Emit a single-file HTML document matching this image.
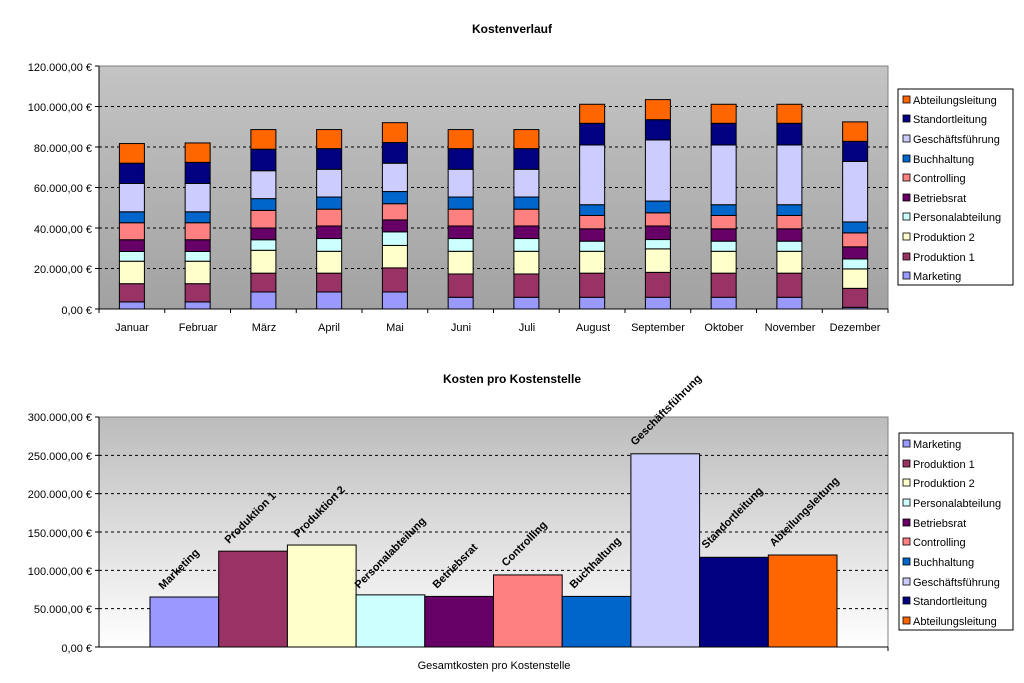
<!DOCTYPE html>
<html><head><meta charset="utf-8"><style>
html,body{margin:0;padding:0;background:#fff;}
svg{display:block;font-family:"Liberation Sans",Arial,sans-serif;}
</style></head><body>
<svg id="s" width="1024" height="683" viewBox="0 0 1024 683" xmlns="http://www.w3.org/2000/svg">
<defs>
<linearGradient id="g1" x1="0" y1="0" x2="0" y2="1"><stop offset="0" stop-color="#c4c4c4"/><stop offset="1" stop-color="#a2a2a2"/></linearGradient>
<linearGradient id="g2" x1="0" y1="0" x2="0" y2="1"><stop offset="0" stop-color="#bcbcbc"/><stop offset="1" stop-color="#ffffff"/></linearGradient>
</defs>
<text x="512" y="33" font-size="12" font-weight="bold" text-anchor="middle">Kostenverlauf</text>
<rect x="99" y="66" width="789" height="243" fill="url(#g1)" stroke="#808080" stroke-width="1"/>
<g id="gtop"></g>
<g font-size="11" fill="#000" text-anchor="end">
<text x="92" y="71">120.000,00 €</text>
<text x="92" y="111">100.000,00 €</text>
<text x="92" y="152">80.000,00 €</text>
<text x="92" y="192">60.000,00 €</text>
<text x="92" y="233">40.000,00 €</text>
<text x="92" y="273">20.000,00 €</text>
<text x="92" y="314">0,00 €</text>
</g>
<g font-size="11" text-anchor="middle">
<text x="132" y="331">Januar</text><text x="198" y="331">Februar</text><text x="264" y="331">März</text><text x="329" y="331">April</text><text x="395" y="331">Mai</text><text x="461" y="331">Juni</text><text x="527" y="331">Juli</text><text x="593" y="331">August</text><text x="658" y="331">September</text><text x="724" y="331">Oktober</text><text x="790" y="331">November</text><text x="855" y="331">Dezember</text>
</g>
<rect x="898" y="89" width="115" height="196" fill="#fff" stroke="#000" stroke-width="1"/>
<g font-size="11">
<text x="913" y="104">Abteilungsleitung</text>
<text x="913" y="123">Standortleitung</text>
<text x="913" y="143">Geschäftsführung</text>
<text x="913" y="163">Buchhaltung</text>
<text x="913" y="182">Controlling</text>
<text x="913" y="202">Betriebsrat</text>
<text x="913" y="221">Personalabteilung</text>
<text x="913" y="241">Produktion 2</text>
<text x="913" y="261">Produktion 1</text>
<text x="913" y="280">Marketing</text>
</g>

<text x="512" y="383" font-size="12" font-weight="bold" text-anchor="middle">Kosten pro Kostenstelle</text>
<rect x="99" y="417" width="789" height="230" fill="url(#g2)" stroke="#808080" stroke-width="1"/>
<g id="gbot"></g>
<g font-size="11" text-anchor="end">
<text x="92" y="421">300.000,00 €</text>
<text x="92" y="460">250.000,00 €</text>
<text x="92" y="498">200.000,00 €</text>
<text x="92" y="537">150.000,00 €</text>
<text x="92" y="575">100.000,00 €</text>
<text x="92" y="613">50.000,00 €</text>
<text x="92" y="652">0,00 €</text>
</g>
<text x="494" y="669" font-size="11" text-anchor="middle">Gesamtkosten pro Kostenstelle</text>
<g font-size="11" font-weight="bold">
<text transform="translate(163,590) rotate(-45)">Marketing</text>
<text transform="translate(229,544) rotate(-45)">Produktion 1</text>
<text transform="translate(298,538) rotate(-45)">Produktion 2</text>
<text transform="translate(359,589) rotate(-45)">Personalabteilung</text>
<text transform="translate(437,589) rotate(-45)">Betriebsrat</text>
<text transform="translate(506,567) rotate(-45)">Controlling</text>
<text transform="translate(574,589) rotate(-45)">Buchhaltung</text>
<text transform="translate(635,446) rotate(-45)">Geschäftsführung</text>
<text transform="translate(706,549) rotate(-45)">Standortleitung</text>
<text transform="translate(774,547) rotate(-45)">Abteilungsleitung</text>
</g>
<rect x="899" y="433" width="114" height="197" fill="#fff" stroke="#000" stroke-width="1"/>
<g font-size="11">
<text x="913" y="448">Marketing</text>
<text x="913" y="468">Produktion 1</text>
<text x="913" y="487">Produktion 2</text>
<text x="913" y="507">Personalabteilung</text>
<text x="913" y="527">Betriebsrat</text>
<text x="913" y="546">Controlling</text>
<text x="913" y="566">Buchhaltung</text>
<text x="913" y="586">Geschäftsführung</text>
<text x="913" y="605">Standortleitung</text>
<text x="913" y="625">Abteilungsleitung</text>
</g>
<g id="gsw"></g>
</svg>
<script>
(function(){
var NS="http://www.w3.org/2000/svg";
function el(p,t,a){var e=document.createElementNS(NS,t);for(var k in a)e.setAttribute(k,a[k]);p.appendChild(e);return e;}
var C=["#9999FF","#993366","#FFFFCC","#CCFFFF","#660066","#FF8080","#0066CC","#CCCCFF","#000080","#FF6600"];
var gTop=document.getElementById("gtop"),gBot=document.getElementById("gbot"),gSw=document.getElementById("gsw");
var i,y,x,s,m;
for(i=1;i<=5;i++){y=309-i*40.5;el(gTop,"line",{x1:99,x2:888,y1:y,y2:y,stroke:"#000","stroke-dasharray":"3,3","stroke-width":1});}
for(i=0;i<=6;i++){y=309-i*40.5;el(gTop,"line",{x1:95,x2:99,y1:y,y2:y,stroke:"#000"});}
el(gTop,"line",{x1:99,x2:99,y1:66,y2:309,stroke:"#000"});
el(gTop,"line",{x1:99,x2:888,y1:309,y2:309,stroke:"#000"});
for(i=0;i<=12;i++){x=99+i*65.75;el(gTop,"line",{x1:x,x2:x,y1:309,y2:313,stroke:"#000"});}
var D=[
[3.5,12.5,23.6,28.4,34.2,42.6,48,62,72,81.7],
[3.5,12.5,23.6,28.4,34.2,42.6,48,62,72.4,82],
[8.4,17.7,29,34.2,40,48.7,54.5,68.3,78.9,88.6],
[8.4,17.7,28.5,34.8,41,49.3,55.3,69,79.2,88.6],
[8.4,20.3,31.4,38.1,44,52,58,72,82.2,92],
[5.8,17.3,28.5,34.8,41,49.3,55.3,69,79.2,88.6],
[5.8,17.3,28.5,34.8,41,49.3,55.3,69,79.2,88.6],
[5.8,17.7,28.5,33.5,39.6,46.2,51.5,81,91.7,101.1],
[5.8,18.1,29.7,34.3,41,47.5,53.3,83.5,93.5,103.4],
[5.8,17.7,28.5,33.5,39.6,46.2,51.5,81,91.7,101.1],
[5.8,17.7,28.5,33.5,39.6,46.2,51.5,81,91.7,101.1],
[0.8,10.2,19.8,24.7,30.7,37.6,43,72.9,82.8,92.4]];
var sc=243/120;
for(m=0;m<12;m++){x=99+m*65.75+20.4;var prev=0;
 for(s=0;s<10;s++){var v=D[m][s];var y1=309-v*sc,y0=309-prev*sc;
  el(gTop,"rect",{x:x,y:y1,width:25,height:y0-y1,fill:C[s],stroke:"#000","stroke-width":1});prev=v;}}
var ly1=[280,261,241,221,202,182,163,143,123,104];
var ly2=[448,468,487,507,527,546,566,586,605,625];
for(s=0;s<10;s++){el(gSw,"rect",{x:903,y:ly1[s]-8,width:7,height:7,fill:C[s],stroke:"#000","stroke-width":0.8});
 el(gSw,"rect",{x:903,y:ly2[s]-8,width:7,height:7,fill:C[s],stroke:"#000","stroke-width":0.8});}
for(i=1;i<=5;i++){y=647-i*230/6;el(gBot,"line",{x1:99,x2:888,y1:y,y2:y,stroke:"#000","stroke-dasharray":"3,3","stroke-width":1});}
for(i=0;i<=6;i++){y=647-i*230/6;el(gBot,"line",{x1:95,x2:99,y1:y,y2:y,stroke:"#000"});}
el(gBot,"line",{x1:99,x2:99,y1:417,y2:647,stroke:"#000"});
el(gBot,"line",{x1:99,x2:888,y1:647,y2:647,stroke:"#000"});
el(gBot,"line",{x1:888,x2:888,y1:647,y2:651,stroke:"#000"});
var V=[65.2,125,133,68,66,94,66,252,117,120];
for(s=0;s<10;s++){x=150+s*68.7;y=647-V[s]*230/300;
 el(gBot,"rect",{x:x,y:y,width:68.7,height:647-y,fill:C[s],stroke:"#000","stroke-width":1});}
})();
</script>
</body></html>
